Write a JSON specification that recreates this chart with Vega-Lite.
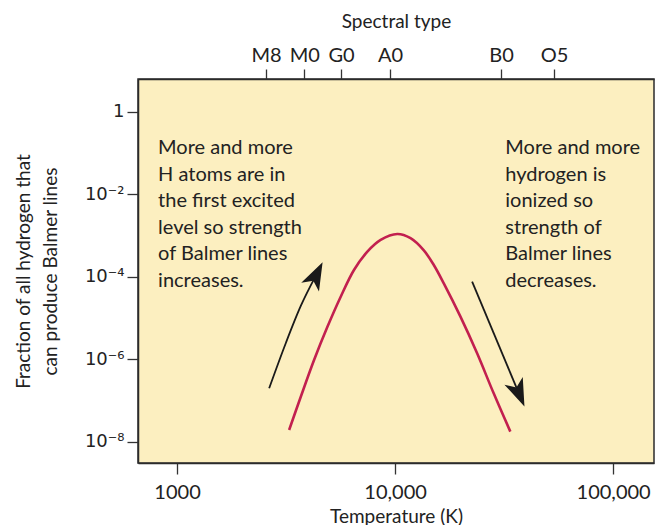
{
  "$schema": "https://vega.github.io/schema/vega-lite/v6.json",
  "width": 516,
  "height": 384,
  "autosize": "none",
  "padding": {"left": 138, "top": 79, "right": 7, "bottom": 62},
  "background": "white",
  "datasets": {
    "curve": [
      {"T": 3266, "f": 1.95e-8},
      {"T": 3694, "f": 1.25e-7},
      {"T": 4250, "f": 9.7e-7},
      {"T": 4894, "f": 6.2e-6},
      {"T": 5631, "f": 3.33e-5},
      {"T": 6478, "f": 1.48e-4},
      {"T": 7462, "f": 4.1e-4},
      {"T": 8584, "f": 7.9e-4},
      {"T": 10233, "f": 1.1e-3},
      {"T": 11774, "f": 8.7e-4},
      {"T": 13548, "f": 4.4e-4},
      {"T": 15051, "f": 1.95e-4},
      {"T": 16725, "f": 7.0e-5},
      {"T": 19944, "f": 1.09e-5},
      {"T": 23780, "f": 1.41e-6},
      {"T": 28330, "f": 1.51e-7},
      {"T": 33780, "f": 1.78e-8}
    ],
    "arrows": [
      {"arrow": "left", "seq": 1, "T": 2645, "f": 2.0e-7},
      {"arrow": "left", "seq": 2, "T": 3155, "f": 2.51e-6},
      {"arrow": "left", "seq": 3, "T": 3694, "f": 1.98e-5},
      {"arrow": "left", "seq": 4, "T": 4313, "f": 1.03e-4},
      {"arrow": "right", "seq": 1, "T": 22560, "f": 7.69e-5},
      {"arrow": "right", "seq": 2, "T": 36720, "f": 1.64e-7}
    ],
    "heads": [
      {"arrow": "left", "T": 4313, "f": 1.03e-4},
      {"arrow": "right", "T": 36720, "f": 1.64e-7}
    ],
    "notes": [
      {"T": 818.6, "f": 0.0959, "text": "More and more\nH atoms are in\nthe first excited\nlevel so strength\nof Balmer lines\nincreases."},
      {"T": 32030, "f": 0.0959, "text": "More and more\nhydrogen is\nionized so\nstrength of\nBalmer lines\ndecreases."}
    ],
    "spectral": [
      {"T": 2560, "type": "M8"},
      {"T": 3830, "type": "M0"},
      {"T": 5650, "type": "G0"},
      {"T": 9480, "type": "A0"},
      {"T": 30600, "type": "B0"},
      {"T": 53600, "type": "O5"}
    ]
  },
  "layer": [
    {
      "layer": [
        {
          "data": {"name": "curve"},
          "mark": {"type": "line", "color": "#c2204f", "strokeWidth": 2.6, "interpolate": "catmull-rom", "clip": true},
          "encoding": {
            "x": {"field": "T", "type": "quantitative", "scale": {"type": "log", "domain": [662, 154000], "nice": false},
              "axis": {"orient": "bottom", "values": [1000, 10000, 100000],
                "labelExpr": "datum.value < 5000 ? '1000' : datum.value < 50000 ? '10,000' : '100,000'",
                "title": "Temperature (K)", "tickSize": 11, "labelPadding": 8, "titlePadding": 5}},
            "y": {"field": "f", "type": "quantitative", "scale": {"type": "log", "domain": [3.09e-9, 6.31], "nice": false},
              "axis": {"values": [1, 0.01, 0.0001, 0.000001, 0.00000001],
                "labelExpr": "datum.value > 0.5 ? '1' : datum.value > 0.001 ? '10⁻²' : datum.value > 0.00001 ? '10⁻⁴' : datum.value > 0.0000001 ? '10⁻⁶' : '10⁻⁸'",
                "labelFont": "DejaVu Sans", "labelFontSize": 18,
                "title": ["Fraction of all hydrogen that", "can produce Balmer lines"],
                "titleLineHeight": 27, "tickSize": 11, "labelPadding": 3, "titlePadding": 24}}
          }
        },
        {
          "data": {"name": "arrows"},
          "mark": {"type": "line", "color": "#1a1a1a", "strokeWidth": 1.8, "interpolate": "monotone"},
          "encoding": {
            "x": {"field": "T", "type": "quantitative"},
            "y": {"field": "f", "type": "quantitative"},
            "detail": {"field": "arrow"},
            "order": {"field": "seq"}
          }
        },
        {
          "data": {"name": "heads"},
          "transform": [{"filter": "datum.arrow == 'left'"}],
          "mark": {"type": "point", "shape": "M0,-1L0.62,0.75L0,0.3L-0.62,0.75Z", "filled": true, "color": "#1a1a1a", "opacity": 1, "size": 1024, "angle": 26.5},
          "encoding": {
            "x": {"field": "T", "type": "quantitative"},
            "y": {"field": "f", "type": "quantitative"}
          }
        },
        {
          "data": {"name": "heads"},
          "transform": [{"filter": "datum.arrow == 'right'"}],
          "mark": {"type": "point", "shape": "M0,-1L0.62,0.75L0,0.3L-0.62,0.75Z", "filled": true, "color": "#1a1a1a", "opacity": 1, "size": 1024, "angle": 157.2},
          "encoding": {
            "x": {"field": "T", "type": "quantitative"},
            "y": {"field": "f", "type": "quantitative"}
          }
        },
        {
          "data": {"name": "notes"},
          "mark": {"type": "text", "align": "left", "baseline": "alphabetic", "lineBreak": "\n", "lineHeight": 26.6, "font": "Lato", "fontSize": 20, "color": "#222"},
          "encoding": {
            "x": {"field": "T", "type": "quantitative"},
            "y": {"field": "f", "type": "quantitative"},
            "text": {"field": "text"}
          }
        }
      ]
    },
    {
      "data": {"name": "spectral"},
      "mark": {"type": "point", "opacity": 0},
      "encoding": {
        "x": {"field": "T", "type": "quantitative", "scale": {"type": "log", "domain": [662, 154000], "nice": false},
          "axis": {"orient": "top", "values": [2560, 3830, 5650, 9480, 30600, 53600],
            "labelExpr": "datum.value < 3000 ? 'M8' : datum.value < 4500 ? 'M0' : datum.value < 7000 ? 'G0' : datum.value < 15000 ? 'A0' : datum.value < 40000 ? 'B0' : 'O5'",
            "title": "Spectral type", "tickSize": 10, "labelPadding": 4, "titlePadding": 14}}
      }
    }
  ],
  "resolve": {"scale": {"x": "independent"}, "axis": {"x": "independent"}},
  "config": {
    "view": {"fill": "#fcefc0", "stroke": "#2b2b2b", "strokeWidth": 1.5},
    "axis": {
      "grid": false,
      "labelFont": "Lato", "titleFont": "Lato",
      "labelFontSize": 20, "titleFontSize": 19, "titleFontWeight": "normal",
      "labelColor": "#222", "titleColor": "#222",
      "domainColor": "#2b2b2b", "domainWidth": 1.5,
      "tickColor": "#333", "tickWidth": 1.3
    }
  }
}
